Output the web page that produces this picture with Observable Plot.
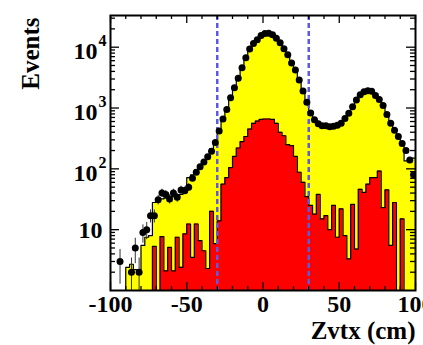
<!DOCTYPE html>
<html><head><meta charset="utf-8">
<script src="https://cdn.jsdelivr.net/npm/d3@7"></script>
<script src="https://cdn.jsdelivr.net/npm/@observablehq/plot@0.6"></script>
<style>
html,body{margin:0;padding:0;background:#fff;overflow:hidden;}
svg{display:block;}
</style></head><body>
<div id="chart"></div>
<script>
// 80 bins of 2.5 cm from -100 to 100 cm
const binLowEdges = d3.range(-100, 100, 2.5);
const xMax = 100;

// black points: data counts per bin
const dataCounts = [
  0, 0, 3, 0, 0, 2, 5, 2, 9, 10,
  17, 17, 31, 40, 38, 32, 40, 34, 45, 44,
  50, 70, 88, 108, 130, 158, 195, 270, 420, 660,
  950, 1470, 2150, 3100, 4600, 6700, 9300, 11500, 13300, 15500,
  16800, 17000, 16000, 14000, 11800, 9400, 7500, 5500, 4200, 2900,
  1900, 1250, 830, 640, 550, 510, 510, 490, 500, 520,
  560, 670, 820, 1050, 1350, 1650, 1850, 1920, 1880, 1600,
  1380, 1100, 780, 560, 430, 340, 260, 200, 140, 80
];
// yellow histogram: total simulation
const mcTotal = [
  0, 0, 0, 0, 2.4, 2.7, 2.2, 2.2, 5.5, 7.5,
  8, 28, 30, 32, 33, 33, 35, 36, 38, 40,
  72, 80, 95, 115, 135, 165, 215, 290, 420, 640,
  930, 1400, 2100, 3000, 4400, 6500, 9000, 11300, 13200, 15300,
  16600, 16800, 16000, 14000, 11700, 9400, 7400, 5500, 4100, 2900,
  1900, 1250, 830, 640, 550, 510, 500, 490, 500, 520,
  560, 660, 820, 1050, 1330, 1620, 1820, 1900, 1850, 1600,
  1380, 1100, 780, 560, 430, 330, 260, 135, 135, 150
];
// red histogram: component
const mcSignal = [
  0, 0, 0, 0, 0, 0, 0, 0, 0, 0,
  0, 5.3, 0, 7.7, 2.1, 5.1, 2.1, 7.5, 2.4, 8.5,
  12.4, 3.5, 12.4, 6.6, 4.5, 2.3, 20, 5.9, 14, 56,
  72, 105, 160, 220, 280, 340, 450, 560, 610, 650,
  660, 660, 650, 560, 400, 350, 250, 240, 160, 88,
  60, 35, 25, 18, 38, 15, 17, 10, 25, 7.5,
  22, 8, 3.3, 26, 4.8, 46, 41, 56, 72, 72,
  92, 23, 45, 5.5, 28, 0, 15, 0, 0, 0
];

const xTickValues = [-100, -50, 0, 50, 100];
const xTickLabels = ["-100", "-50", "0", "50", "100"];
const xMinorTicks = [-90, -80, -70, -60, -40, -30, -20, -10, 10, 20, 30, 40, 60, 70, 80, 90];
const yTickValues = [10, 100, 1000, 10000];
const yTickBase = ["10", "10", "10", "10"];
const yTickExp = ["", "2", "3", "4"];
const cutLines = [-30, 30];
const xTitle = "Zvtx (cm)";
const yTitle = "Events";

const W = 423, H = 345, mL = 110, mR = 8, mT = 15, mB = 55;
const FW = W - mL - mR, FH = H - mT - mB;
const FLOOR = 0.3;
const SERIF = "'Liberation Serif','Times New Roman',serif";

function steps(vals) {
  const s = binLowEdges.map((x, i) => ({x, v: vals[i] > 0 ? vals[i] : FLOOR}));
  s.push({x: xMax, v: s[s.length - 1].v});
  return s;
}
const yellowSteps = steps(mcTotal);
const redSteps = steps(mcSignal);
const points = binLowEdges.map((x, i) => ({c: x + 1.25, n: dataCounts[i]}))
  .filter(d => d.n > 0)
  .map(d => ({...d, lo: Math.max(d.n - Math.sqrt(d.n), FLOOR), hi: d.n + Math.sqrt(d.n)}));

const yMinor = [];
for (let k = 0; k <= 4; k++) for (let m = 2; m <= 9; m++) { const v = m * 10 ** k; if (v < 33200) yMinor.push(v); }
const ySup = yTickValues.map((v, i) => ({v, base: yTickBase[i], exp: yTickExp[i]}));

const tickStyle = {stroke: "black", strokeWidth: 1.3};
const chart = Plot.plot({
  width: W, height: H, marginLeft: mL, marginRight: mR, marginTop: mT, marginBottom: mB,
  x: {domain: [-100, 100], axis: null},
  y: {type: "log", domain: [1, 33200], axis: null},
  style: {fontFamily: SERIF, background: "white", color: "black"},
  marks: [
    Plot.areaY(yellowSteps, {x: "x", y1: FLOOR, y2: "v", curve: "step-after", fill: "#ffff00", clip: true}),
    Plot.line(yellowSteps, {x: "x", y: "v", curve: "step-after", stroke: "black", strokeWidth: 1.2, clip: true}),
    Plot.areaY(redSteps, {x: "x", y1: FLOOR, y2: "v", curve: "step-after", fill: "#ff0000", clip: true}),
    Plot.line(redSteps, {x: "x", y: "v", curve: "step-after", stroke: "black", strokeWidth: 1.2, clip: true}),
    Plot.ruleX(cutLines, {x: d => d, stroke: "#5a5ae6", strokeWidth: 2.5, strokeDasharray: "5,3"}),
    Plot.ruleX(points, {x: "c", y1: "lo", y2: "hi", stroke: "#333", strokeWidth: 1, clip: true}),
    Plot.dot(points, {x: "c", y: "n", r: 3.5, fill: "black", stroke: "none", clip: true}),
    // ticks, inside the frame on all four sides
    Plot.tickX(xTickValues, {x: d => d, insetTop: FH - 8, ...tickStyle}),
    Plot.tickX(xTickValues, {x: d => d, insetBottom: FH - 8, ...tickStyle}),
    Plot.tickX(xMinorTicks, {x: d => d, insetTop: FH - 4, ...tickStyle}),
    Plot.tickX(xMinorTicks, {x: d => d, insetBottom: FH - 4, ...tickStyle}),
    Plot.tickY(yTickValues, {y: d => d, insetRight: FW - 9, ...tickStyle}),
    Plot.tickY(yTickValues, {y: d => d, insetLeft: FW - 9, ...tickStyle}),
    Plot.tickY(yMinor, {y: d => d, insetRight: FW - 5, ...tickStyle}),
    Plot.tickY(yMinor, {y: d => d, insetLeft: FW - 5, ...tickStyle}),
    Plot.frame({stroke: "black", strokeWidth: 2}),
    // x tick labels
    Plot.text(xTickValues, {x: d => d, frameAnchor: "bottom", text: (d, i) => xTickLabels[i], dy: 14,
      fontSize: 24, fontWeight: "bold", lineAnchor: "middle"}),
    // y tick labels
    Plot.text(ySup.filter(d => d.exp === ""), {y: "v", frameAnchor: "left", text: "base", textAnchor: "end",
      dx: -8, dy: 1, fontSize: 24, fontWeight: "bold", lineAnchor: "middle"}),
    Plot.text(ySup.filter(d => d.exp !== ""), {y: "v", frameAnchor: "left", text: "base", textAnchor: "end",
      dx: -13, dy: 4, fontSize: 24, fontWeight: "bold", lineAnchor: "middle"}),
    Plot.text(ySup.filter(d => d.exp !== ""), {y: "v", frameAnchor: "left", text: "exp", textAnchor: "end",
      dx: -4, dy: -6, fontSize: 16, fontWeight: "bold", lineAnchor: "middle"}),
    // axis titles
    Plot.text([xTitle], {frameAnchor: "bottom-right", text: d => d, textAnchor: "end", dx: 0, dy: 40,
      fontSize: 25, fontWeight: "bold", lineAnchor: "middle"}),
    Plot.text([yTitle], {frameAnchor: "top-left", text: d => d, textAnchor: "end", rotate: -90,
      dx: -80, dy: 2, fontSize: 25, fontWeight: "bold", lineAnchor: "middle"})
  ]
});
document.getElementById("chart").appendChild(chart);
</script>
</body></html>
